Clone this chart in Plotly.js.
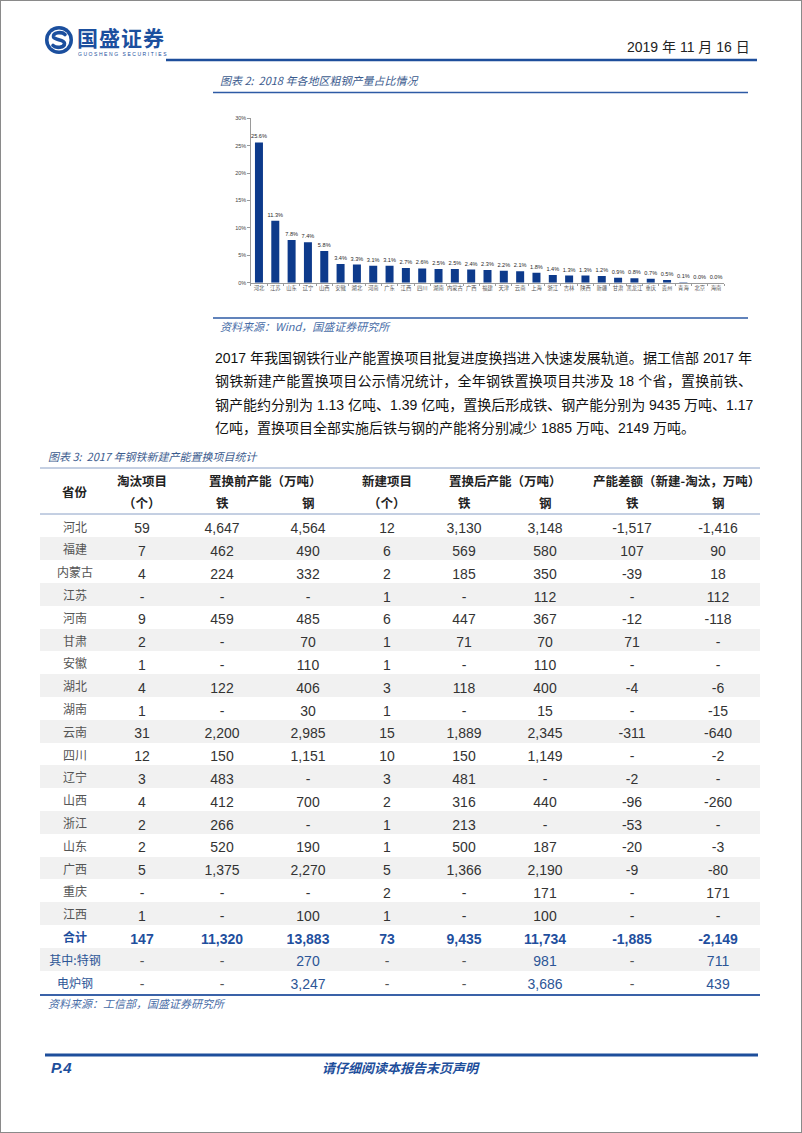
<!DOCTYPE html>
<html><head><meta charset="utf-8">
<script src="https://cdn.plot.ly/plotly-3.0.1.min.js"></script>
<style>
html,body{margin:0;padding:0;background:#fff;}
#page{position:relative;width:802px;height:1133px;overflow:hidden;background:#fff;}
#plot{position:absolute;left:0;top:0;width:802px;height:1133px;}
#frame{position:absolute;left:0;top:0;width:800px;height:1131px;border:1px solid #8a8a8a;pointer-events:none;}
#logo{position:absolute;left:44px;top:24px;}
#brand{position:absolute;left:77px;top:24px;font-family:"Noto Sans CJK SC",sans-serif;font-weight:700;font-size:21px;letter-spacing:1px;color:#1b4f9e;line-height:26px;}
#brandEn{position:absolute;left:78px;top:51px;font-family:"Liberation Sans",sans-serif;font-size:5px;letter-spacing:1.55px;color:#1b4f9e;}
#para{position:absolute;left:215px;top:347px;width:537px;font-family:"Liberation Sans","Noto Sans CJK SC",sans-serif;font-size:14px;line-height:23.4px;color:#111;}
#para div{white-space:nowrap;text-align:justify;text-align-last:justify;}
#para div.last{text-align-last:left;}
</style></head>
<body>
<div id="page">
  <div id="plot"></div>
  <svg id="logo" width="30" height="32" viewBox="0 0 30 32">
    <circle cx="15" cy="16" r="14" fill="#1b4f9e"/>
    <circle cx="15" cy="16" r="10.5" fill="#fff"/>
    <path d="M21 10.5 C18 7.5 9 8 9.5 12.8 C10 16.5 20.5 15 20.5 19.5 C20.5 24 12 24.5 9 21.5" stroke="#1b4f9e" stroke-width="3.6" fill="none" stroke-linecap="round"/>
  </svg>
  <div id="brand">国盛证券</div>
  <div id="brandEn">GUOSHENG SECURITIES</div>
  <div id="para">
    <div>2017 年我国钢铁行业产能置换项目批复进度换挡进入快速发展轨道。据工信部 2017 年</div>
    <div>钢铁新建产能置换项目公示情况统计，全年钢铁置换项目共涉及 18 个省，置换前铁、</div>
    <div>钢产能约分别为 1.13 亿吨、1.39 亿吨，置换后形成铁、钢产能分别为 9435 万吨、1.17</div>
    <div class="last">亿吨，置换项目全部实施后铁与钢的产能将分别减少 1885 万吨、2149 万吨。</div>
  </div>
  <div id="frame"></div>
</div>
<script>
// ---------- chart data ----------
const regions = ['河北','江苏','山东','辽宁','山西','安徽','湖北','河南','广东','江西','四川','湖南','内蒙古','广西','福建','天津','云南','上海','浙江','吉林','陕西','新疆','甘肃','黑龙江','重庆','贵州','青海','北京','海南'];
const share = [25.6,11.3,7.8,7.4,5.8,3.4,3.3,3.1,3.1,2.7,2.6,2.5,2.5,2.4,2.3,2.2,2.1,1.8,1.4,1.3,1.3,1.2,0.9,0.8,0.7,0.5,0.1,0.0,0.0];
const yTicks = [0,5,10,15,20,25,30];

// ---------- table data ----------
const provinces = ['河北','福建','内蒙古','江苏','河南','甘肃','安徽','湖北','湖南','云南','四川','辽宁','山西','浙江','山东','广西','重庆','江西','合计','其中:特钢','电炉钢'];
const retiredProjects = ['59','7','4','-','9','2','1','4','1','31','12','3','4','2','2','5','-','1','147','-','-'];
const beforeIron = ['4,647','462','224','-','459','-','-','122','-','2,200','150','483','412','266','520','1,375','-','-','11,320','-','-'];
const beforeSteel = ['4,564','490','332','-','485','70','110','406','30','2,985','1,151','-','700','-','190','2,270','-','100','13,883','270','3,247'];
const newProjects = ['12','6','2','1','6','1','1','3','1','15','10','3','2','1','1','5','2','1','73','-','-'];
const afterIron = ['3,130','569','185','-','447','71','-','118','-','1,889','150','481','316','213','500','1,366','-','-','9,435','-','-'];
const afterSteel = ['3,148','580','350','112','367','70','110','400','15','2,345','1,149','-','440','-','187','2,190','171','100','11,734','981','3,686'];
const diffIron = ['-1,517','107','-39','-','-12','71','-','-4','-','-311','-','-2','-96','-53','-20','-9','-','-','-1,885','-','-'];
const diffSteel = ['-1,416','90','18','112','-118','-','-','-6','-15','-640','-2','-','-260','-','-3','-80','171','-','-2,149','711','439'];
const headTop = ['淘汰项目','置换前产能（万吨）','新建项目','置换后产能（万吨）','产能差额（新建-淘汰，万吨）'];
const headSub = ['（个）','铁','钢','（个）','铁','钢','铁','钢'];

// ---------- helpers ----------
const W = 802, H = 1133;
const X = x => x / W, Y = y => 1 - y / H;
const CJK = '"Noto Sans CJK SC", sans-serif';
const NUM = '"Liberation Sans Narrow", "Liberation Sans", "Noto Sans CJK SC", sans-serif';
const BLUE = '#1d4e9b';
const CLEAR = 'rgba(0,0,0,0)';
function ann(text, x, y, o) {
  o = o || {};
  return {text: text, x: X(x), y: Y(y), xref: 'paper', yref: 'paper', showarrow: false,
    xanchor: o.xa || 'left', yanchor: 'middle',
    font: {family: o.family || CJK, size: o.size || 12, color: o.color || '#222'}};
}
function line(x0, y0, x1, y1, color, width) {
  return {type: 'line', xref: 'paper', yref: 'paper', x0: X(x0), y0: Y(y0), x1: X(x1), y1: Y(y1),
    line: {color: color, width: width}, layer: 'above'};
}

// ---------- bar chart ----------
const bar = {
  type: 'bar', x: regions, y: share, xaxis: 'x', yaxis: 'y',
  marker: {color: '#0d3a8b'},
  texttemplate: '%{y:.1f}%', textposition: 'outside', cliponaxis: false, constraintext: 'none',
  textfont: {family: NUM, size: 5.6, color: '#2a2a2a'},
  hoverinfo: 'skip'
};

// ---------- table ----------
const N = provinces.length;
const totalIdx = provinces.indexOf('合计');
const dataCols = [
  {v: provinces, c: 75, w: 68, prov: true},
  {v: retiredProjects, c: 142, w: 44},
  {v: beforeIron, c: 222, w: 60},
  {v: beforeSteel, c: 308, w: 60},
  {v: newProjects, c: 387, w: 44},
  {v: afterIron, c: 464, w: 60},
  {v: afterSteel, c: 545, w: 60},
  {v: diffIron, c: 632, w: 60},
  {v: diffSteel, c: 718, w: 60}
];
const tLeft = 40, tRight = 760;
const colVals = [], colW = [], colFill = [], colColor = [], colFamily = [], colSize = [], colWeight = [];
const rowFill = i => (i % 2 === 1 ? '#f1f1f1' : CLEAR);
const blankCol = () => Array.from({length: N}, () => '');
let cur = tLeft;
function pushCol(vals, w, colors, fam, size, weights) {
  colVals.push(vals); colW.push(w);
  colFill.push(Array.from({length: N}, (_, i) => rowFill(i)));
  colColor.push(colors); colFamily.push(fam); colSize.push(size); colWeight.push(weights);
}
dataCols.forEach(d => {
  const l = d.c - d.w / 2;
  if (l > cur) pushCol(blankCol(), l - cur, '#333', NUM, 14, 'normal');
  const colors = d.v.map((s, i) => {
    if (i === totalIdx) return '#1f4f9e';
    if (i > totalIdx) return s === '-' ? '#555' : '#2c5596';
    return d.prov ? '#555' : '#333';
  });
  const weights = d.v.map((s, i) => (i === totalIdx ? 'bold' : 'normal'));
  pushCol(d.v, d.w, colors, d.prov ? CJK : NUM, d.prov ? 12 : 14, weights);
  cur = l + d.w;
});
if (cur < tRight) pushCol(blankCol(), tRight - cur, '#333', NUM, 14, 'normal');

const tableTop = 468, headH = 46.6, rowH = 22.8;
const table = {
  type: 'table',
  domain: {x: [X(tLeft), X(tRight)], y: [Y(tableTop + headH + rowH * N + 2), Y(tableTop)]},
  columnwidth: colW,
  header: {values: colVals.map(() => ''), height: headH, fill: {color: CLEAR}, line: {width: 0, color: CLEAR}},
  cells: {
    values: colVals, height: rowH, align: 'center',
    fill: {color: colFill},
    line: {width: 0, color: CLEAR},
    font: {family: colFamily, size: colSize, color: colColor, weight: colWeight}
  }
};

// ---------- annotations / rules ----------
const annotations = [
  ann('2019 年 11 月 16 日', 752, 47, {xa: 'right', size: 14, color: '#222', family: NUM}),
  ann('<i>图表 2:  2018 年各地区粗钢产量占比情况</i>', 218, 80, {size: 11, color: '#3b5b8e'}),
  ann('<i>资料来源：Wind，国盛证券研究所</i>', 218, 326, {size: 11, color: '#4a6ea8'}),
  ann('<i>图表 3:  2017 年钢铁新建产能置换项目统计</i>', 46, 456, {size: 11, color: '#3b5b8e'}),
  ann('<b>省份</b>', 75, 492, {xa: 'center', size: 12.5}),
  ann('<i>资料来源：工信部，国盛证券研究所</i>', 46, 1003, {size: 11, color: '#4a6ea8'}),
  ann('<b><i>P.4</i></b>', 49, 1067, {size: 15, color: BLUE, family: NUM}),
  ann('<b><i>请仔细阅读本报告末页声明</i></b>', 401, 1067, {xa: 'center', size: 13, color: BLUE})
];
const topCenters = [142, 265, 387, 505, 676];
headTop.forEach((t, i) => annotations.push(ann('<b>' + t + '</b>', topCenters[i], 481, {xa: 'center', size: 12.5})));
const subCenters = [142, 222, 308, 387, 464, 545, 632, 718];
headSub.forEach((t, i) => annotations.push(ann('<b>' + t + '</b>', subCenters[i], 503, {xa: 'center', size: 12.5})));

const shapes = [
  line(166, 60, 757, 60, BLUE, 2.5),
  line(213, 92.5, 748, 92.5, '#2d5aa5', 1.5),
  line(213, 318, 748, 318, '#2d5aa5', 1.5),
  line(40, 468, 760, 468, '#8aa0c6', 1),
  line(40, 514, 760, 514, '#8aa0c6', 1),
  line(40, 995, 760, 995, '#3a62a8', 2),
  line(45, 1055, 758, 1055, BLUE, 3)
];

const layout = {
  width: W, height: H, margin: {l: 0, r: 0, t: 0, b: 0},
  paper_bgcolor: 'rgba(0,0,0,0)', plot_bgcolor: 'rgba(0,0,0,0)',
  showlegend: false, bargap: 0.51,
  xaxis: {domain: [X(250.8), X(724.2)], type: 'category', range: [-0.5, regions.length - 0.5],
    showline: true, linecolor: '#9a9a9a', linewidth: 1, ticks: 'outside', ticklen: 2, tickcolor: '#9a9a9a',
    tickson: 'boundaries', tickangle: 0, tickfont: {family: CJK, size: 5.3, color: '#555'}, fixedrange: true},
  yaxis: {domain: [Y(282.7), Y(118.3)], range: [0, 30], tickmode: 'array', tickvals: yTicks,
    ticktext: yTicks.map(v => v + '%'),
    showline: true, linecolor: '#9a9a9a', linewidth: 1, ticks: 'outside', ticklen: 2.5, tickcolor: '#9a9a9a',
    showgrid: false, zeroline: false, tickfont: {family: NUM, size: 5.5, color: '#444'}, fixedrange: true},
  annotations: annotations, shapes: shapes
};
Plotly.newPlot('plot', [bar, table], layout, {staticPlot: true, displayModeBar: false});
</script>
</body></html>
